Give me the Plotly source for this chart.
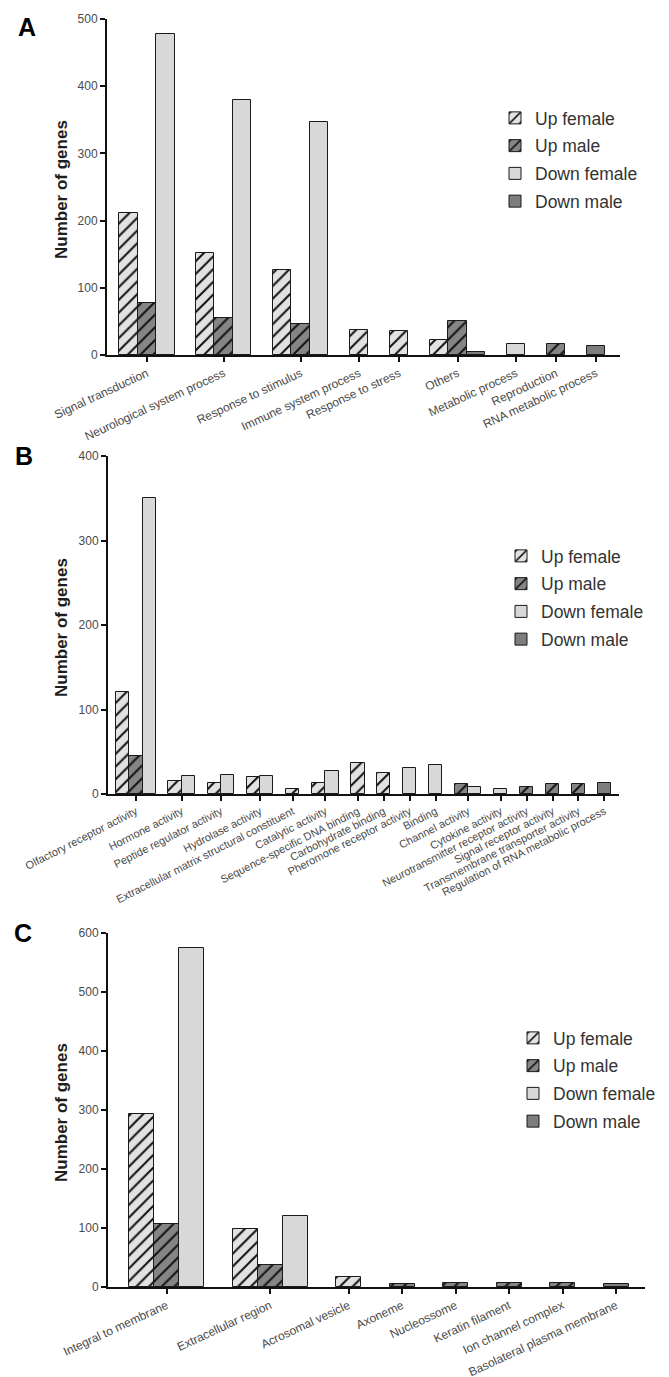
import plotly.graph_objects as go

W, H = 669, 1377
FONT = "Arial, Liberation Sans, sans-serif"

SERIES = ["Up female", "Up male", "Down female", "Down male"]

# ---------------- Panel A (biological process) ----------------
A_categories = ["Signal transduction", "Neurological system process", "Response to stimulus",
                "Immune system process", "Response to stress", "Others", "Metabolic process",
                "Reproduction", "RNA metabolic process"]
A_up_female = [212, 152, 127, 37, 35, 23, None, None, None]
A_up_male = [78, 55, 46, None, None, 50, None, 16, None]
A_down_female = [477, 380, 346, None, None, None, 16, None, None]
A_down_male = [None, None, None, None, None, 5, None, None, 14]
A_yticks = [0, 100, 200, 300, 400, 500]

# ---------------- Panel B (molecular function) ----------------
B_categories = ["Olfactory receptor activity", "Hormone activity", "Peptide regulator activity",
                "Hydrolase activity", "Extracellular matrix structural constituent",
                "Catalytic activity", "Sequence-specific DNA binding", "Carbohydrate binding",
                "Pheromone receptor activity", "Binding", "Channel activity", "Cytokine activity",
                "Neurotransmitter receptor activity", "Signal receptor activity",
                "Transmembrane transporter activity", "Regulation of RNA metabolic process"]
B_up_female = [121, 15, 13, 20, 6, 13, 37, 25, None, None, None, None, None, None, None, None]
B_up_male = [45, None, None, None, None, None, None, None, None, None, 12, None, 8, 12, 12, None]
B_down_female = [350, 21, 23, 21, None, 27, None, None, 31, 34, 8, 6, None, None, None, None]
B_down_male = [None, None, None, None, None, None, None, None, None, None, None, None, None, None, None, 13]
B_yticks = [0, 100, 200, 300, 400]

# ---------------- Panel C (cellular component) ----------------
C_categories = ["Integral to membrane", "Extracellular region", "Acrosomal vesicle", "Axoneme",
                "Nucleossome", "Keratin filament", "Ion channel complex",
                "Basolateral plasma membrane"]
C_up_female = [293, 99, 17, None, None, None, None, None]
C_up_male = [107, 37, None, 5, 7, 6, 7, None]
C_down_female = [575, 121, None, None, None, None, None, None]
C_down_male = [None, None, None, None, None, None, None, 5]
C_yticks = [0, 100, 200, 300, 400, 500, 600]

STYLE = {
    "Up female": dict(bg="#e2e2e2", hatch=True),
    "Up male": dict(bg="#858585", hatch=True),
    "Down female": dict(bg="#d8d8d8", hatch=False),
    "Down male": dict(bg="#7d7d7d", hatch=False),
}

panels = [
    dict(key="A", cats=A_categories,
         vals=[A_up_female, A_up_male, A_down_female, A_down_male],
         yticks=A_yticks, xpx=(99, 612), ypx=(11, 347), pad=(0.65, 0.8), gap=1.16,
         leg=(487, 92), letter=(19, 19), title_y=182, tangle=-25, tsize=12),
    dict(key="B", cats=B_categories,
         vals=[B_up_female, B_up_male, B_down_female, B_down_male],
         yticks=B_yticks, xpx=(100, 611), ypx=(448, 786), pad=(0.6, 0.6), gap=0.95,
         leg=(493, 530), letter=(16, 448), title_y=620, tangle=-27, tsize=11),
    dict(key="C", cats=C_categories,
         vals=[C_up_female, C_up_male, C_down_female, C_down_male],
         yticks=C_yticks, xpx=(100, 637), ypx=(925, 1279), pad=(0.84, 0.66), gap=1.14,
         leg=(505, 1012), letter=(15, 925), title_y=1105, tangle=-25, tsize=12),
]

fig = go.Figure()
annotations = []
layout_axes = {}

for pi, p in enumerate(panels):
    sfx = "" if pi == 0 else str(pi + 1)
    xa, ya = "x" + sfx, "y" + sfx
    legname = "legend" + sfx

    # compact grouped layout: only present bars, centred on the category tick
    cursor = p["pad"][0]
    centers = []
    xs = {s: [] for s in SERIES}
    ys = {s: [] for s in SERIES}
    for ci in range(len(p["cats"])):
        present = [(s, v[ci]) for s, v in zip(SERIES, p["vals"]) if v[ci] is not None]
        n = len(present)
        for k, (s, val) in enumerate(present):
            xs[s].append(cursor + k + 0.5)
            ys[s].append(val)
        centers.append(cursor + n / 2)
        cursor += n + p["gap"]
    xmax = cursor - p["gap"] + p["pad"][1]

    for s in SERIES:
        st = STYLE[s]
        marker = dict(color=st["bg"], line=dict(color="#1a1a1a", width=1))
        if st["hatch"]:
            marker["pattern"] = dict(shape="/", fgcolor="#111111", bgcolor=st["bg"],
                                     size=9, solidity=0.22, fillmode="replace")
        fig.add_trace(go.Bar(
            x=xs[s] if xs[s] else [None], y=ys[s] if ys[s] else [None], width=1,
            name=s, marker=marker, xaxis=xa, yaxis=ya,
            legend=legname, legendgroup=p["key"] + s, showlegend=True,
        ))

    ymax = max(p["yticks"])
    x0, x1 = p["xpx"]
    ytop, ybot = p["ypx"]
    layout_axes["xaxis" + sfx] = dict(
        domain=[x0 / W, x1 / W], range=[0, xmax], anchor=ya,
        tickmode="array", tickvals=centers, ticktext=p["cats"], tickangle=p["tangle"],
        ticks="outside", ticklen=5, tickwidth=1.5, tickcolor="#111",
        showline=True, linecolor="#111", linewidth=2, showgrid=False, zeroline=False,
        tickfont=dict(family=FONT, size=p["tsize"], color="#4a4a4a"), automargin=False,
        fixedrange=True,
    )
    layout_axes["yaxis" + sfx] = dict(
        domain=[1 - ybot / H, 1 - ytop / H], range=[0, ymax], anchor=xa,
        tickmode="array", tickvals=p["yticks"],
        ticks="outside", ticklen=5, tickwidth=1.5, tickcolor="#111",
        showline=True, linecolor="#111", linewidth=2, showgrid=False, zeroline=False,
        tickfont=dict(family=FONT, size=12, color="#4a4a4a"), automargin=False,
        fixedrange=True,
    )
    layout_axes[legname] = dict(
        x=p["leg"][0] / W, y=1 - p["leg"][1] / H, xanchor="left", yanchor="top",
        xref="paper", yref="paper",
        font=dict(family=FONT, size=17.5, color="#333333"),
        bgcolor="rgba(0,0,0,0)", borderwidth=0, tracegroupgap=2,
    )
    annotations.append(dict(
        text="<b>" + p["key"] + "</b>", x=p["letter"][0] / W, y=1 - p["letter"][1] / H,
        xref="paper", yref="paper", showarrow=False, xanchor="center", yanchor="middle",
        font=dict(family=FONT, size=25, color="#000"),
    ))
    annotations.append(dict(
        text="<b>Number of genes</b>", x=53 / W, y=1 - p["title_y"] / H,
        xref="paper", yref="paper", showarrow=False, xanchor="center", yanchor="middle",
        textangle=-90, font=dict(family=FONT, size=17, color="#1e1e1e"),
    ))

fig.update_layout(
    width=W, height=H, margin=dict(l=0, r=0, t=0, b=0),
    paper_bgcolor="white", plot_bgcolor="white",
    barmode="overlay", bargap=0, showlegend=True,
    annotations=annotations, font=dict(family=FONT),
    **layout_axes,
)

fig.write_html("out.html")
